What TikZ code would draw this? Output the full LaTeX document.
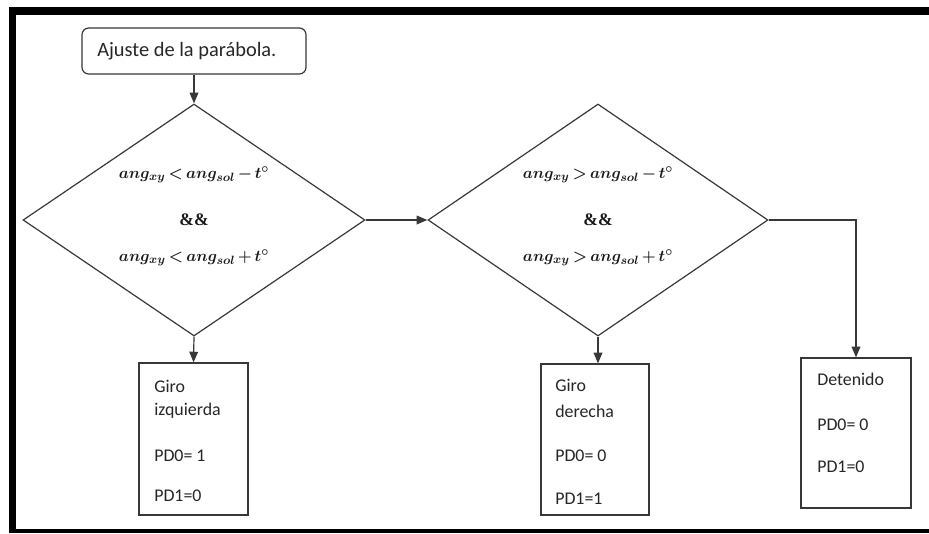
\documentclass[tikz,border=0pt]{standalone}
\usepackage{fontspec}
\setmainfont{Carlito}
\newfontfamily\serifb{Liberation Serif}
\usepackage{amsmath}
\usepackage{bm}
\usetikzlibrary{shapes.geometric,arrows.meta}
\newcommand{\tightmath}{\thickmuskip=3.5mu\medmuskip=3mu}
\newcommand{\condLm}{{\tightmath$\bm{ang_{xy} < ang_{sol} - t^{\circ}}$}}
\newcommand{\condLp}{{\tightmath$\bm{ang_{xy} < ang_{sol} + t^{\circ}}$}}
\newcommand{\condGm}{{\tightmath$\bm{ang_{xy} > ang_{sol} - t^{\circ}}$}}
\newcommand{\condGp}{{\tightmath$\bm{ang_{xy} > ang_{sol} + t^{\circ}}$}}
\newcommand{\andand}{{\serifb\bfseries\&\&}}
\begin{document}
\begin{tikzpicture}[x=0.75pt,y=-0.75pt,
  ln/.style={draw=black!78, line width=0.9pt},
  arr/.style={ln, -{Triangle[length=8pt,width=6.5pt]}},
  pbox/.style={ln, rectangle, inner sep=0pt},
  dmd/.style={ln, diamond, inner sep=0pt},
  btxt/.style={anchor=west, inner sep=0pt, font=\fontsize{13.4}{16}\selectfont, text=black!85},
  mtxt/.style={inner sep=0pt, font=\fontsize{13.2}{16}\selectfont, text=black!90},
  framebar/.style={fill=black, draw=none}]
\useasboundingbox (0,0) rectangle (929,533);
% frame
\fill[framebar] (9,7) rectangle (929,15);
\fill[framebar] (9,7) rectangle (16,533);
\fill[framebar] (9,529) rectangle (929,533);
% top box
\node[pbox, rounded corners=5pt, minimum width=224*0.75pt, minimum height=46*0.75pt] (start) at (194,51) {};
\node[anchor=west, inner sep=0pt, font=\fontsize{15.3}{18}\selectfont, text=black!85] (starttxt) at (97,51) {Ajuste de la parábola.};
% diamonds
\node[dmd, minimum width=342*0.75pt, minimum height=232*0.75pt] (d1) at (194,220) {};
\node[dmd, minimum width=340*0.75pt, minimum height=232*0.75pt] (d2) at (598,220) {};
\node[mtxt] (d1a) at (194,175) {\condLm};
\node[mtxt] (d1b) at (194,220) {\andand};
\node[mtxt] (d1c) at (194,258) {\condLp};
\node[mtxt] (d2a) at (598,175) {\condGm};
\node[mtxt] (d2b) at (598,220) {\andand};
\node[mtxt] (d2c) at (598,258) {\condGp};
% result boxes
\node[pbox, minimum width=109*0.75pt, minimum height=152*0.75pt] (b1) at (193.5,439) {};
\node[pbox, minimum width=108*0.75pt, minimum height=151*0.75pt] (b2) at (595,439.5) {};
\node[pbox, minimum width=110*0.75pt, minimum height=150*0.75pt] (b3) at (856,433) {};
\node[btxt] (b1l1) at (154,386) {Giro};
\node[btxt] (b1l2) at (154,411) {izquierda};
\node[btxt] (b1l3) at (154,456) {PD0= 1};
\node[btxt] (b1l4) at (154,496) {PD1=0};
\node[btxt] (b2l1) at (555,385) {Giro};
\node[btxt] (b2l2) at (555,411) {derecha};
\node[btxt] (b2l3) at (555,456) {PD0= 0};
\node[btxt] (b2l4) at (555,499) {PD1=1};
\node[btxt] (b3l1) at (817,379) {Detenido};
\node[btxt] (b3l2) at (817,425) {PD0= 0};
\node[btxt] (b3l3) at (817,467) {PD1=0};
% connectors
\draw[arr] (start.south) -- (d1.north);
\draw[arr] (d1.south) -- (b1.north);
\draw[arr] (d1.east) -- (d2.west);
\draw[arr] (d2.south) -- (d2.south |- b2.north);
\draw[arr] (d2.east) -| (b3.north);
\end{tikzpicture}
\end{document}
